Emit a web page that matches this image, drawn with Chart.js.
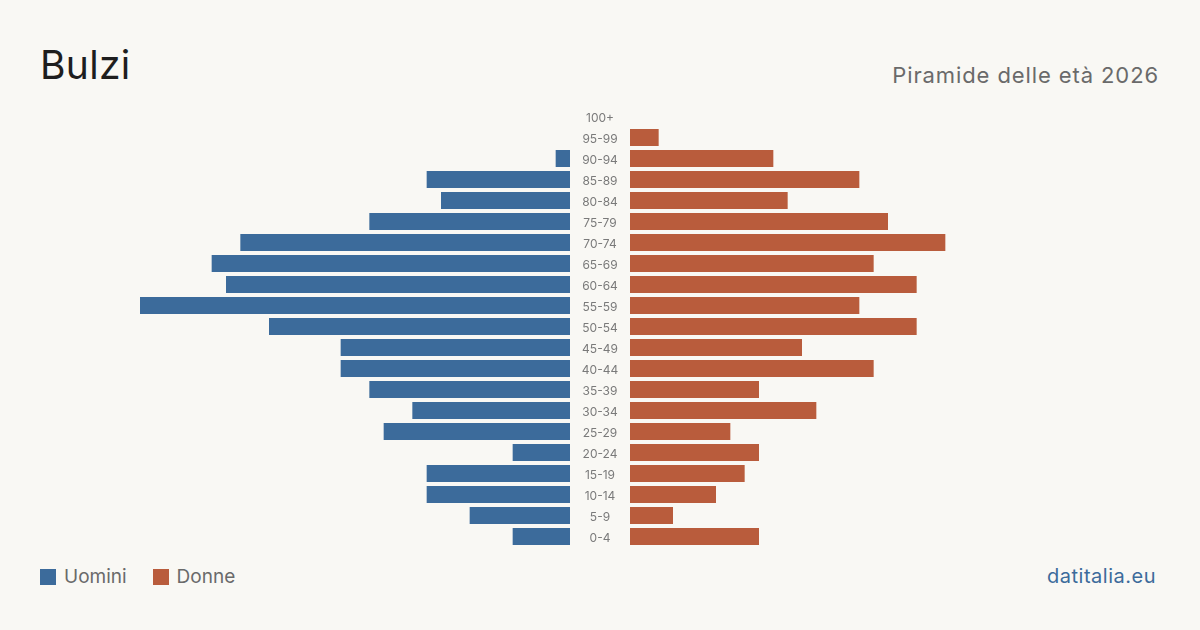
<!DOCTYPE html>
<html>
<head>
<meta charset="utf-8">
<script src="https://cdn.jsdelivr.net/npm/chart.js"></script>
<style>
  html, body { margin: 0; padding: 0; }
  body { width: 1200px; height: 630px; background: #f9f8f4; position: relative; overflow: hidden; font-family: Inter, "Noto Sans", sans-serif; }
  .title { position: absolute; left: 40px; top: 41px; font-size: 39px; color: #1e1e1e; letter-spacing: 0.3px; }
  .subtitle { position: absolute; right: 41px; top: 62px; font-size: 22px; color: #6a6a6a; letter-spacing: 0.9px; }
  .legend { position: absolute; left: 40px; top: 565px; font-size: 19px; color: #6a6a6a; display: flex; align-items: center; }
  .legend span.box { display: inline-block; width: 16px; height: 16px; margin-right: 8px; }
  .legend span.item { margin-right: 26px; display: flex; align-items: center; }
  .source { position: absolute; right: 44px; top: 564px; font-size: 20px; color: #3c6b9b; letter-spacing: 0.5px; }
  .wrap { position: absolute; top: 106px; height: 441px; }
</style>
</head>
<body>
<div class="title">Bulzi</div>
<div class="subtitle">Piramide delle età 2026</div>
<div class="legend">
  <span class="item"><span class="box" style="background:#3c6b9b"></span>Uomini</span>
  <span class="item"><span class="box" style="background:#b95c3c"></span>Donne</span>
</div>
<div class="source">datitalia.eu</div>
<div class="wrap" style="left:140px;width:490px"><canvas id="menChart"></canvas></div>
<div class="wrap" style="left:630px;width:430px"><canvas id="womenChart"></canvas></div>

<script>
var ageGroups = ['100+', '95-99', '90-94', '85-89', '80-84', '75-79', '70-74', '65-69', '60-64', '55-59', '50-54',
  '45-49', '40-44', '35-39', '30-34', '25-29', '20-24', '15-19', '10-14', '5-9', '0-4'];
var men = [0, 0, 1, 10, 9, 14, 23, 25, 24, 30, 21, 16, 16, 14, 11, 13, 4, 10, 10, 7, 4];
var women = [0, 2, 10, 16, 11, 18, 22, 17, 20, 16, 20, 12, 17, 9, 13, 7, 9, 8, 6, 3, 9];
var maxValue = 30;

document.addEventListener('DOMContentLoaded', function(){

  // draws the age labels in the gap between the two halves
  var centerLabels = {
    id: 'centerLabels',
    afterDraw: function(chart) {
      var ctx = chart.ctx;
      var yScale = chart.scales.y;
      ctx.save();
      ctx.font = '12px Inter, "Noto Sans", sans-serif';
      ctx.fillStyle = '#7a7a7a';
      ctx.textAlign = 'center';
      ctx.textBaseline = 'middle';
      ageGroups.forEach(function(label, i) {
        ctx.fillText(label, chart.chartArea.right + 30, yScale.getPixelForValue(i) + 1.5);
      });
      ctx.restore();
    }
  };

  function makeChart(id, values, color, reverse, extra) {
    return new Chart(document.getElementById(id).getContext('2d'), {
      type: 'bar',
      data: {
        labels: ageGroups,
        datasets: [{
          data: values,
          backgroundColor: color,
          borderWidth: 0,
          barPercentage: 0.81,
          categoryPercentage: 1
        }]
      },
      options: {
        indexAxis: 'y',
        responsive: true,
        maintainAspectRatio: false,
        animation: false,
        layout: { padding: { left: 0, right: extra, top: 0, bottom: 0 } },
        plugins: { legend: { display: false }, tooltip: { enabled: false } },
        scales: {
          x: { display: false, min: 0, max: maxValue, reverse: reverse },
          y: { display: false }
        }
      },
      plugins: reverse ? [centerLabels] : []
    });
  }

  makeChart('menChart', men, '#3c6b9b', true, 60);
  makeChart('womenChart', women, '#b95c3c', false, 0);
});
</script>
</body>
</html>
